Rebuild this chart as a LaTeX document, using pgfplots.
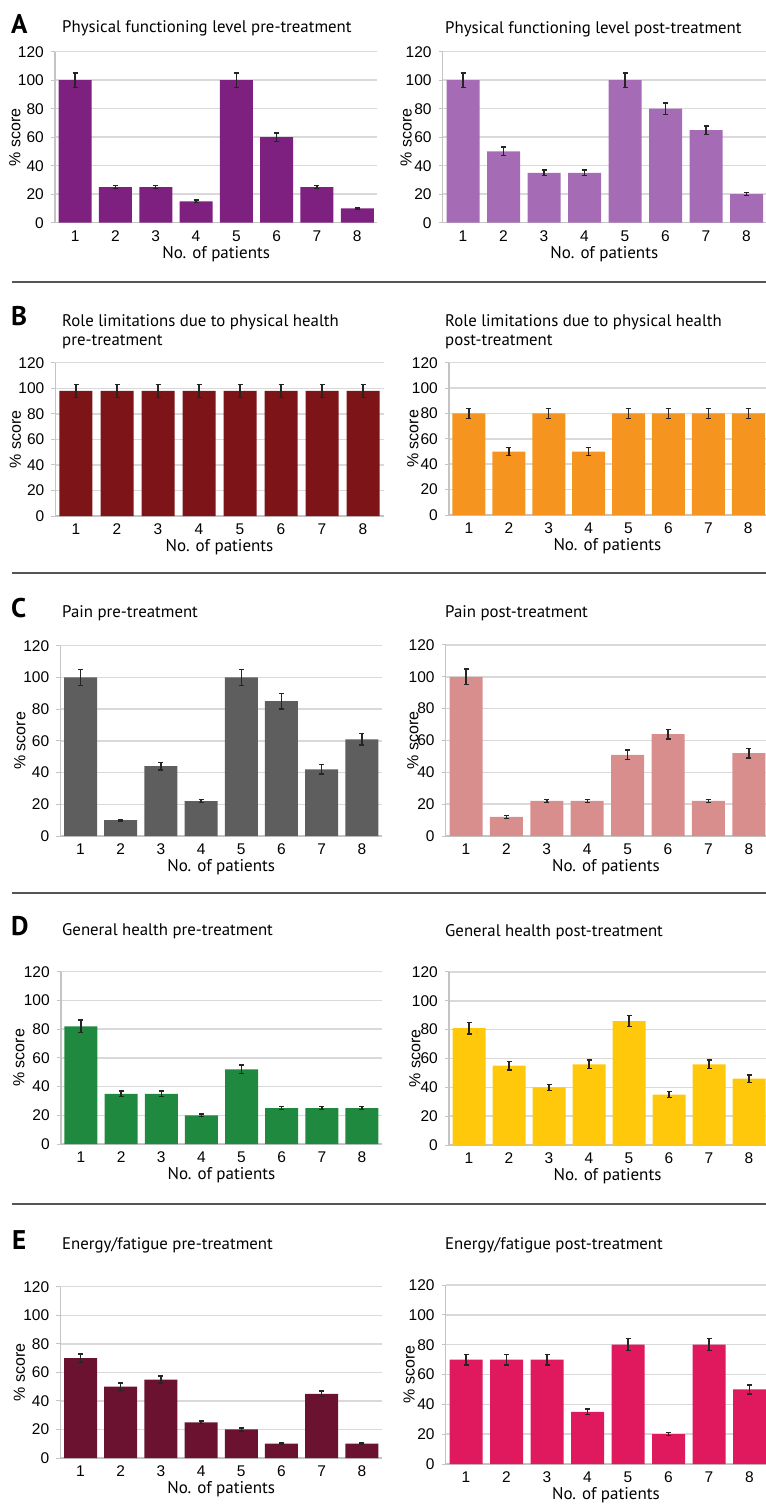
\documentclass[border=0pt]{standalone}
\usepackage{fontspec}
\setmainfont{PT Sans}
\newfontfamily\arialf{Liberation Sans}
\usepackage{pgfplots}
\pgfplotsset{compat=1.18}
\definecolor{cApre}{HTML}{7E2080}
\definecolor{cApost}{HTML}{A66BB5}
\definecolor{cBpre}{HTML}{7D1417}
\definecolor{cBpost}{HTML}{F5951F}
\definecolor{cCpre}{HTML}{5E5E5E}
\definecolor{cCpost}{HTML}{D98E8E}
\definecolor{cDpre}{HTML}{1F8A3F}
\definecolor{cDpost}{HTML}{FFC80A}
\definecolor{cEpre}{HTML}{6B1230}
\definecolor{cEpost}{HTML}{E0185E}
\definecolor{gridc}{HTML}{D9D9D9}
\definecolor{axc}{HTML}{C4C4C4}
\definecolor{errc}{HTML}{252525}
\definecolor{sepc}{HTML}{555555}
\pgfplotsset{
  panel/.style={
    scale only axis, anchor=south west,
    xmin=0.5, ymin=0, ymax=120,
    axis x line*=bottom, axis y line*=left,
    every outer x axis line/.append style={-},
    every outer y axis line/.append style={-},
    axis line style={draw=axc, line width=1.2pt, -},
    ytick={0,20,...,120}, xtick={1,...,8},
    ymajorgrids, grid style={draw=gridc, line width=1.5pt},
    tick align=outside,
    ytick style={draw=axc, line width=1pt},
    xtick style={draw=none},
    major tick length=4pt,
    /pgf/number format/assume math mode=true,
    tick label style={font=\arialf\fontsize{15.5}{15.5}\selectfont, inner sep=0pt},
    yticklabel style={anchor=east, xshift=-7pt},
    xticklabel style={anchor=base, yshift=-14.5pt},
    ylabel={\% score},
    xlabel={No. of patients},
    xlabel style={at={(axis description cs:0.5,0)}, anchor=base, yshift=-35.5pt, inner sep=0pt, font=\fontsize{17}{17}\selectfont},
    clip=false,
  },
  ylab/.style={every axis y label/.style={at={(axis description cs:0,0.5)}, rotate=90, anchor=center, yshift=#1, inner sep=0pt, font=\arialf\fontsize{16}{16}\selectfont}},
  bars/.style={ybar, bar width=33pt, fill=#1, draw=none,
    error bars/.cd, y dir=both, y explicit, error mark=-,
    error bar style={line width=1.4pt, draw=errc},
    error mark options={rotate=90, line width=1.4pt, mark size=2.5pt, draw=errc}},
}
\tikzset{ttl/.style={anchor=base west, inner sep=0pt, font=\fontsize{16.8}{16.8}\selectfont},
  letter/.style={anchor=base west, inner sep=0pt, font=\bfseries\fontsize{27}{27}\selectfont}}
\begin{document}
\begin{tikzpicture}
\useasboundingbox (0,0) rectangle (766pt,-1508pt);
% separators
\foreach \yy in {282,573,893,1204} {\draw[sepc, line width=1.3pt] (12pt,-\yy pt) -- (766pt,-\yy pt);}
% letters and titles
\node[letter] at (11pt,-33pt) {A};
\node[ttl] at (62pt,-32pt) {Physical functioning level pre-treatment};
\node[ttl] at (445pt,-33pt) {Physical functioning level post-treatment};
\node[letter] at (11pt,-325pt) {B};
\node[ttl] at (62pt,-326.7pt) {Role limitations due to physical health};
\node[ttl] at (62pt,-345pt) {pre-treatment};
\node[ttl] at (445pt,-326.7pt) {Role limitations due to physical health};
\node[ttl] at (445pt,-345pt) {post-treatment};
\node[letter] at (11pt,-617pt) {C};
\node[ttl] at (62pt,-617pt) {Pain pre-treatment};
\node[ttl] at (445pt,-617pt) {Pain post-treatment};
\node[letter] at (11pt,-935pt) {D};
\node[ttl] at (62pt,-935pt) {General health pre-treatment};
\node[ttl] at (445pt,-936pt) {General health post-treatment};
\node[letter] at (12pt,-1249pt) {E};
\node[ttl] at (62pt,-1249pt) {Energy/fatigue pre-treatment};
\node[ttl] at (445pt,-1249pt) {Energy/fatigue post-treatment};

% A pre
\begin{axis}[panel, at={(55pt,-222.7pt)}, x=40.3pt, y=1.425pt, xmax=8.5, ylab=40pt]
\addplot[bars=cApre] coordinates {(1,100) +- (0,5) (2,25) +- (0,1) (3,25) +- (0,1) (4,15) +- (0,1) (5,100) +- (0,5) (6,60) +- (0,3) (7,25) +- (0,1) (8,10) +- (0,0.5)};
\end{axis}
% A post
\begin{axis}[panel, at={(442.75pt,-222.7pt)}, x=40.5pt, y=1.425pt, xmax=8.48, ylab=36.5pt]
\addplot[bars=cApost] coordinates {(1,100) +- (0,5) (2,50) +- (0,3) (3,35) +- (0,2) (4,35) +- (0,2) (5,100) +- (0,5) (6,80) +- (0,4) (7,65) +- (0,3) (8,20) +- (0,1)};
\end{axis}
% B pre
\begin{axis}[panel, at={(55.5pt,-516pt)}, x=41pt, y=1.2775pt, xmax=8.5, ylab=40pt]
\addplot[bars=cBpre] coordinates {(1,98) +- (0,5) (2,98) +- (0,5) (3,98) +- (0,5) (4,98) +- (0,5) (5,98) +- (0,5) (6,98) +- (0,5) (7,98) +- (0,5) (8,98) +- (0,5)};
\end{axis}
% B post
\begin{axis}[panel, at={(449pt,-515pt)}, x=39.9pt, y=1.269pt, xmax=8.44, ylab=36pt]
\addplot[bars=cBpost] coordinates {(1,80) +- (0,4) (2,50) +- (0,3) (3,80) +- (0,4) (4,50) +- (0,3) (5,80) +- (0,4) (6,80) +- (0,4) (7,80) +- (0,4) (8,80) +- (0,4)};
\end{axis}
% C pre
\begin{axis}[panel, at={(60.4pt,-836pt)}, x=40.2pt, y=1.586pt, xmax=8.5, ylab=40.4pt]
\addplot[bars=cCpre] coordinates {(1,100) +- (0,5) (2,10) +- (0,0.5) (3,44) +- (0,2.5) (4,22) +- (0,1) (5,100) +- (0,5) (6,85) +- (0,5) (7,42) +- (0,3) (8,61) +- (0,3.5)};
\end{axis}
% C post
\begin{axis}[panel, at={(445.8pt,-836pt)}, x=40.4pt, y=1.592pt, xmax=8.43, ylab=33pt]
\addplot[bars=cCpost] coordinates {(1,100) +- (0,5) (2,12) +- (0,1) (3,22) +- (0,1) (4,22) +- (0,1) (5,51) +- (0,3) (6,64) +- (0,3) (7,22) +- (0,1) (8,52) +- (0,3)};
\end{axis}
% D pre
\begin{axis}[panel, at={(60.9pt,-1144pt)}, x=40.14pt, y=1.436pt, xmax=8.5, ylab=42pt]
\addplot[bars=cDpre] coordinates {(1,82) +- (0,4.5) (2,35) +- (0,2) (3,35) +- (0,2) (4,20) +- (0,1) (5,52) +- (0,3) (6,25) +- (0,1) (7,25) +- (0,1) (8,25) +- (0,1)};
\end{axis}
% D post
\begin{axis}[panel, at={(449pt,-1145pt)}, x=40pt, y=1.442pt, xmax=8.43, ylab=34pt]
\addplot[bars=cDpost] coordinates {(1,81) +- (0,4) (2,55) +- (0,3) (3,40) +- (0,2) (4,56) +- (0,3) (5,86) +- (0,4) (6,35) +- (0,2) (7,56) +- (0,3) (8,46) +- (0,2.5)};
\end{axis}
% E pre
\begin{axis}[panel, at={(60.4pt,-1458pt)}, x=40.2pt, y=1.4275pt, xmax=8.5, ylab=41pt]
\addplot[bars=cEpre] coordinates {(1,70) +- (0,3) (2,50) +- (0,2.5) (3,55) +- (0,2.5) (4,25) +- (0,1) (5,20) +- (0,1) (6,10) +- (0,0.5) (7,45) +- (0,2) (8,10) +- (0,0.5)};
\end{axis}
% E post
\begin{axis}[panel, at={(445.75pt,-1464pt)}, x=40.5pt, y=1.4917pt, xmax=8.41, ylab=36.5pt]
\addplot[bars=cEpost] coordinates {(1,70) +- (0,3.5) (2,70) +- (0,3.5) (3,70) +- (0,3.5) (4,35) +- (0,2) (5,80) +- (0,4) (6,20) +- (0,1) (7,80) +- (0,4) (8,50) +- (0,3)};
\end{axis}
\end{tikzpicture}
\end{document}
